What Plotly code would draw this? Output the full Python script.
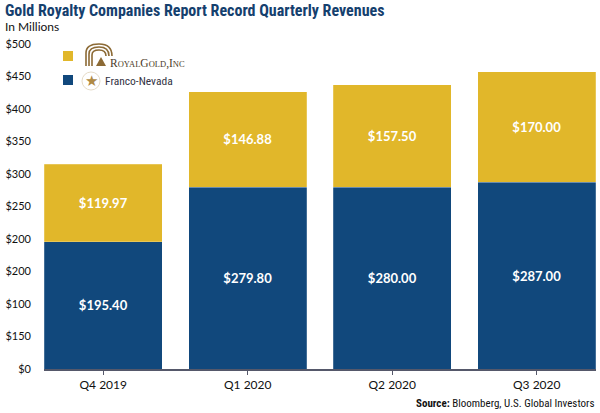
import plotly.graph_objects as go

quarters = ["Q4 2019", "Q1 2020", "Q2 2020", "Q3 2020"]
franco_nevada = [195.40, 279.80, 280.00, 287.00]
royal_gold = [119.97, 146.88, 157.50, 170.00]
ytick_vals = [0, 50, 100, 150, 200, 250, 300, 350, 400, 450, 500]
ytick_text = ["$0", "$150", "$100", "$200", "$200", "$250", "$300", "$350", "$400", "$450", "$500"]

BLUE = "#11487c"
GOLD = "#e1b72a"
NARROW = "Liberation Sans Narrow, Roboto Condensed, Arial Narrow, sans-serif"
LABEL_FONT = "Lato, Open Sans, sans-serif"

fig = go.Figure()
fig.add_trace(go.Bar(
    x=quarters, y=franco_nevada, name="Franco-Nevada",
    marker=dict(color=BLUE, line=dict(color="rgba(255,255,255,0.35)", width=0.6)),
    text=[f"${v:.2f}" for v in franco_nevada], textposition="inside",
    insidetextanchor="middle", textangle=0,
    textfont=dict(color="white", size=13, family=LABEL_FONT, weight="bold"),
    showlegend=False,
))
fig.add_trace(go.Bar(
    x=quarters, y=royal_gold, name="Royal Gold",
    marker=dict(color=GOLD, line=dict(color="rgba(255,255,255,0.35)", width=0.6)),
    text=[f"${v:.2f}" for v in royal_gold], textposition="inside",
    insidetextanchor="middle", textangle=0,
    textfont=dict(color="white", size=13, family=LABEL_FONT, weight="bold"),
    showlegend=False,
))

fig.update_layout(
    barmode="stack",
    bargap=0.183,
    width=600, height=413,
    margin=dict(l=44, r=4, t=44, b=44),
    plot_bgcolor="white", paper_bgcolor="white",
    font=dict(family=LABEL_FONT, color="#111111"),
    uniformtext=dict(mode="show", minsize=8),
)
fig.update_xaxes(
    range=[-0.41, 3.41], showline=True, linecolor="#55586a", linewidth=1.5,
    ticks="outside", ticklen=4, tickcolor="#55586a", tickwidth=1,
    tickfont=dict(size=12, color="#111111", family=LABEL_FONT), showgrid=False,
)
fig.update_yaxes(
    range=[0, 500], tickvals=ytick_vals, ticktext=ytick_text,
    showgrid=False, zeroline=False, showline=False,
    tickfont=dict(size=11, color="#111111", family=LABEL_FONT),
    ticklabelstandoff=12,
)

def px_x(p):
    return (p - 44) / 552

def px_y(p):
    return (369 - p) / 325

# Title and subtitle
fig.add_annotation(
    text="<b>Gold Royalty Companies Report Record Quarterly Revenues</b>",
    xref="paper", yref="paper", x=px_x(3), y=px_y(11), xanchor="left", yanchor="middle",
    showarrow=False, font=dict(size=16, color="#15406e", family=NARROW),
)
fig.add_annotation(
    text="In Millions", xref="paper", yref="paper", x=px_x(3), y=px_y(26),
    xanchor="left", yanchor="middle", showarrow=False,
    font=dict(size=12, color="#111111", family=LABEL_FONT),
)

# Legend squares
fig.add_shape(type="rect", xref="paper", yref="paper",
              x0=px_x(63), x1=px_x(73), y0=px_y(61), y1=px_y(51),
              fillcolor=GOLD, line=dict(width=0))
fig.add_shape(type="rect", xref="paper", yref="paper",
              x0=px_x(63), x1=px_x(73), y0=px_y(85), y1=px_y(75),
              fillcolor=BLUE, line=dict(width=0))

# Royal Gold logo mark (stylised arcs)
for r in [13, 10, 7]:
    d = 13 - r
    fig.add_shape(type="path", xref="paper", yref="paper",
                  path=f"M {px_x(86 + d)} {px_y(66)} L {px_x(86 + d)} {px_y(57 - r * 0.3)} "
                       f"Q {px_x(86 + d)} {px_y(44 + d)} {px_x(99)} {px_y(44 + d)} "
                       f"Q {px_x(112 - d)} {px_y(44 + d)} {px_x(112 - d)} {px_y(56)}",
                  line=dict(color="#8c6a35", width=1.6))
fig.add_shape(type="path", xref="paper", yref="paper",
              path=f"M {px_x(96)} {px_y(66)} L {px_x(101)} {px_y(57)} L {px_x(106)} {px_y(66)} Z",
              fillcolor="#8c6a35", line=dict(width=0))
fig.add_annotation(
    text="R<span style='font-size:8.5px'>OYAL</span>G<span style='font-size:8.5px'>OLD</span>,I<span style='font-size:8.5px'>NC</span>",
    xref="paper", yref="paper", x=px_x(108), y=px_y(63), xanchor="left", yanchor="middle",
    showarrow=False, font=dict(size=11.5, color="#4a3a28", family="Liberation Serif, DejaVu Serif, serif"),
)
# Franco-Nevada mark
fig.add_shape(type="circle", xref="paper", yref="paper",
              x0=px_x(82), x1=px_x(100), y0=px_y(90), y1=px_y(72),
              line=dict(color="#e6dcc8", width=1), fillcolor="white")
fig.add_annotation(
    text="★", xref="paper", yref="paper", x=px_x(91), y=px_y(81),
    xanchor="center", yanchor="middle", showarrow=False,
    font=dict(size=15, color="#b08a45", family="DejaVu Sans"),
)
fig.add_annotation(
    text="Franco-Nevada", xref="paper", yref="paper", x=px_x(103), y=px_y(81),
    xanchor="left", yanchor="middle", showarrow=False,
    font=dict(size=11.5, color="#333344", family=NARROW),
)

# Source
fig.add_annotation(
    text="<b>Source:</b> Bloomberg, U.S. Global Investors",
    xref="paper", yref="paper", x=1, y=px_y(403), xanchor="right", yanchor="middle",
    showarrow=False, font=dict(size=11, color="#111111", family=NARROW),
)

fig.write_html(
    "out.html",
    config={"displayModeBar": False},
    post_script="document.body.style.margin='0';document.body.style.padding='0';",
)
